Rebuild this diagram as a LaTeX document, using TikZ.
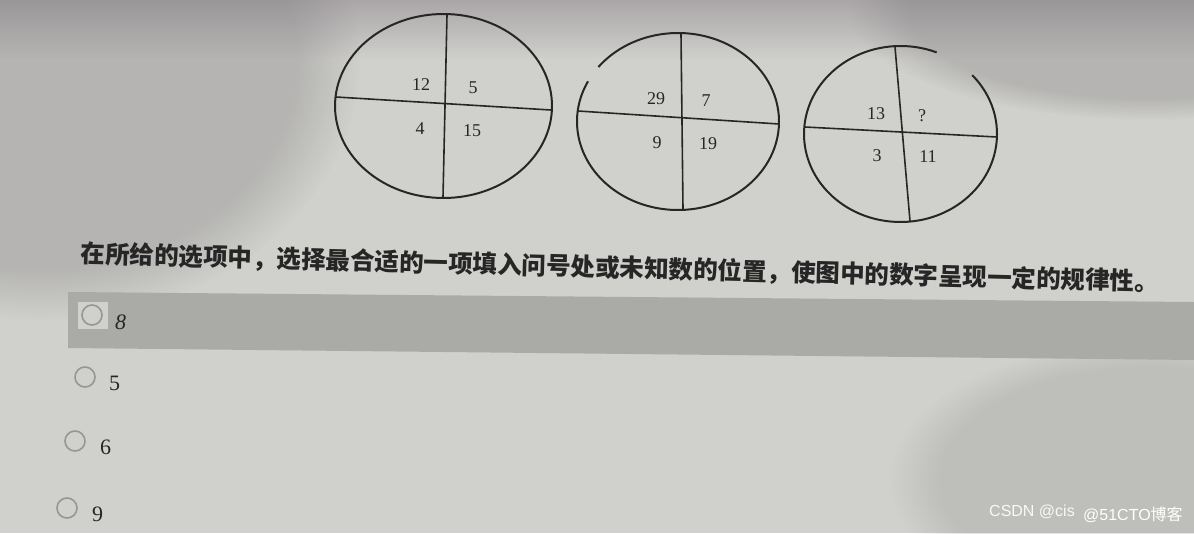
\documentclass[tikz,border=0pt]{standalone}
\usepackage{fontspec}
\setmainfont{Liberation Serif}
\newfontfamily\cjk{Noto Sans CJK SC}
\newfontfamily\wmfont{Liberation Sans}
\usetikzlibrary{fadings}
\definecolor{bg}{RGB}{208,208,204}
\definecolor{bgtop}{RGB}{170,166,168}
\definecolor{dark}{RGB}{120,118,120}
\definecolor{band}{RGB}{170,170,167}
\definecolor{boxc}{RGB}{208,208,205}
\definecolor{ink}{RGB}{38,38,38}
\definecolor{radiogray}{RGB}{150,150,147}
\tikzset{
  ring/.style={draw=ink, line width=2},
  cross/.style={draw=ink, line width=1.6},
  num/.style={font=\fontsize{18}{18}\selectfont, text=ink, inner sep=0},
  opt/.style={font=\fontsize{22}{22}\selectfont, text=ink, inner sep=0, anchor=west},
  radio/.style={draw=radiogray, line width=1.6, circle, minimum size=20, inner sep=0},
  blob/.style={fill=dark, fill opacity=0.3, path fading=circle with fuzzy edge 20 percent},
}
\begin{document}
\begin{tikzpicture}[x=1pt,y=-1pt]
\useasboundingbox (0,0) rectangle (1194,533);
% background
\fill[bg] (0,0) rectangle (1194,533);
\shade[top color=bgtop, bottom color=bg] (0,0) rectangle (1194,60);
\path[blob] (40,60) ellipse [x radius=320, y radius=260];
\path[blob] (1150,10) ellipse [x radius=300, y radius=110];
\path[blob, fill opacity=0.2] (1150,480) ellipse [x radius=260, y radius=140];
% circle 1
\draw[ring] (443.5,106) ellipse [x radius=108.5, y radius=92];
\coordinate (c1t) at (447,15); \coordinate (c1b) at (443,197);
\coordinate (c1l) at (336,97); \coordinate (c1r) at (551,110);
\draw[cross] (c1t) -- (c1b);
\draw[cross] (c1l) -- (c1r);
\node[num] (n12) at (421,85) {12};
\node[num] (n5) at (473,88) {5};
\node[num] (n4) at (420,129) {4};
\node[num] (n15) at (472,131) {15};
% circle 2 (with small break upper left)
\draw[ring] ([shift={(-142:101 and 88.5)}]678,121.5) arc[start angle=-142, end angle=207, x radius=101, y radius=88.5];
\coordinate (c2t) at (681,34); \coordinate (c2b) at (683,209);
\coordinate (c2l) at (578,111); \coordinate (c2r) at (779,124);
\draw[cross] (c2t) -- (c2b);
\draw[cross] (c2l) -- (c2r);
\node[num] (n29) at (656,99) {29};
\node[num] (n7) at (706,101) {7};
\node[num] (n9) at (657,143) {9};
\node[num] (n19) at (708,144) {19};
% circle 3 (with break upper right)
\draw[ring] ([shift={(-42:96.5 and 88)}]900.5,134) arc[start angle=-42, end angle=292, x radius=96.5, y radius=88];
\coordinate (c3t) at (895,47); \coordinate (c3b) at (910,221);
\coordinate (c3l) at (805,127); \coordinate (c3r) at (997,137);
\draw[cross] (c3t) -- (c3b);
\draw[cross] (c3l) -- (c3r);
\node[num] (n13) at (876,114) {13};
\node[num] (nq) at (922,116) {?};
\node[num] (n3) at (877,156) {3};
\node[num] (n11) at (928,157) {11};
% question
\node[inner sep=0, text=ink, rotate=-1.5, font=\cjk\bfseries\fontsize{24.5}{24.5}\selectfont] (q) at (620,268) {在所给的选项中，选择最合适的一项填入问号处或未知数的位置，使图中的数字呈现一定的规律性。};
% highlighted option band
\fill[band] (68,292) -- (1194,302) -- (1194,360) -- (68,348) -- cycle;
\fill[boxc] (78,302) rectangle (108,329);
% options
\node[radio] (r1) at (92,315) {};
\node[opt, font=\itshape\fontsize{22}{22}\selectfont] (o1) at (115,322) {8};
\node[radio] (r2) at (85,377) {};
\node[opt] (o2) at (109,383) {5};
\node[radio] (r3) at (75,441) {};
\node[opt] (o3) at (100,447) {6};
\node[radio] (r4) at (67,508) {};
\node[opt] (o4) at (92,514) {9};
% watermark
\node[inner sep=0, anchor=west, text=white!85!bg, font=\wmfont\fontsize{16}{16}\selectfont] (wm1) at (989,512) {CSDN @cis};
\node[inner sep=0, anchor=west, text=white, font=\wmfont\fontsize{16}{16}\selectfont] (wm2) at (1083,515) {@51CTO\cjk 博客};
\end{tikzpicture}
\end{document}
